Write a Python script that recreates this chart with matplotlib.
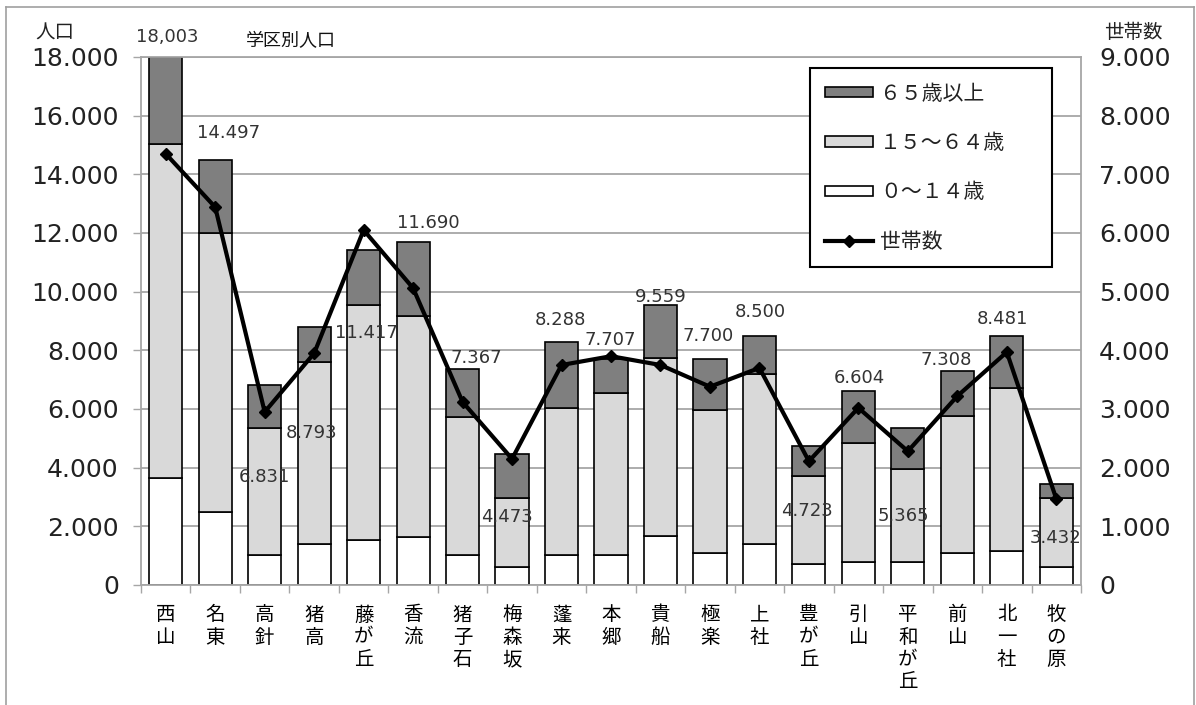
import matplotlib
matplotlib.use("Agg")
import matplotlib.pyplot as plt
import matplotlib.patches as mpatches
from matplotlib.lines import Line2D
from matplotlib.ticker import FuncFormatter, FixedLocator

plt.rcParams["font.family"] = ["Noto Sans CJK JP", "DejaVu Sans"]

# --- Data ---
districts = ["西山", "名東", "高針", "猪高", "藤が丘", "香流", "猪子石", "梅森坂", "蓬来", "本郷",
             "貴船", "極楽", "上社", "豊が丘", "引山", "平和が丘", "前山", "北一社", "牧の原"]
total = [18003, 14497, 6831, 8793, 11417, 11690, 7367, 4473, 8288, 7707,
         9559, 7700, 8500, 4723, 6604, 5365, 7308, 8481, 3432]
age_0_14 = [3650, 2480, 1020, 1400, 1530, 1640, 1020, 610, 1020, 1020,
            1670, 1090, 1400, 720, 780, 780, 1090, 1160, 610]
age_15_64 = [11390, 9520, 4330, 6200, 8020, 7530, 4710, 2360, 5020, 5530,
             6070, 4880, 5790, 3000, 4060, 3180, 4670, 5560, 2360]
age_65 = [2963, 2497, 1481, 1193, 1867, 2520, 1637, 1503, 2248, 1157,
          1819, 1730, 1310, 1003, 1764, 1405, 1548, 1761, 462]
households = [7350, 6440, 2950, 3950, 6050, 5060, 3120, 2150, 3750, 3900,
              3750, 3380, 3700, 2110, 3020, 2280, 3220, 3970, 1470]

# total labels: text and where Excel dropped them (offset from bar top)
total_text = ["18,003", "14.497", "6.831", "8.793", "11.417", "11.690", "7.367", "4.473", "8.288", "7.707",
              "9.559", "7.700", "8.500", "4.723", "6.604", "5.365", "7.308", "8.481", "3.432"]
lab_dx = [0.03, 0.26, -0.01, -0.06, 0.05, 0.31, 0.28, -0.10, -0.03, -0.02,
          0.0, -0.03, 0.02, -0.03, 0.02, -0.09, -0.22, -0.09, -0.02]
lab_dy = [681, 914, -3149, -3611, -2825, 652, 373, -2155, 747, 646,
          260, 790, 808, -2200, 454, -3012, 363, 588, -1830]

C65 = "#7f7f7f"
C15 = "#d9d9d9"
C0 = "#ffffff"
GRID = "#a6a6a6"
NUMFONT = ["DejaVu Sans"]

W, H = 1196, 705
fig = plt.figure(figsize=(W / 100, H / 100), dpi=100)
ax = fig.add_axes([141 / W, 1 - 585 / H, 940 / W, 528 / H])

x = list(range(len(districts)))
bw = 0.67
ax.bar(x, age_0_14, bw, color=C0, edgecolor="black", linewidth=1.2, zorder=2)
ax.bar(x, age_15_64, bw, bottom=age_0_14, color=C15, edgecolor="black", linewidth=1.2, zorder=2)
bottom2 = [a + b for a, b in zip(age_0_14, age_15_64)]
ax.bar(x, age_65, bw, bottom=bottom2, color=C65, edgecolor="black", linewidth=1.2, zorder=2)

for i, t in enumerate(total_text):
    ax.text(i + lab_dx[i], total[i] + lab_dy[i], t, ha="center", va="center",
            fontsize=13, color="#333333", family=NUMFONT, zorder=5)

ax.set_xlim(-0.5, len(districts) - 0.5)
ax.set_ylim(0, 18000)
ax.set_yticks(range(0, 18001, 2000))
fmt = FuncFormatter(lambda v, p: f"{v:,.0f}".replace(",", "."))
ax.yaxis.set_major_formatter(fmt)
ax.tick_params(axis="y", direction="out", length=6, width=1, color=GRID, pad=10,
               labelsize=18, labelcolor="#222222")
for lab in ax.get_yticklabels():
    lab.set_family(NUMFONT)
ax.set_xticks(x)
ax.set_xticklabels(["\n".join(n) for n in districts], fontsize=14, linespacing=1.08, va="top")
ax.tick_params(axis="x", which="major", length=0, pad=14)
ax.xaxis.set_minor_locator(FixedLocator([i - 0.5 for i in range(len(districts) + 1)]))
ax.tick_params(axis="x", which="minor", direction="out", length=6, width=1, color=GRID)
ax.grid(axis="y", color=GRID, linewidth=1.3)
ax.set_axisbelow(True)
for s in ax.spines.values():
    s.set_color(GRID)
    s.set_linewidth(1.3)

ax2 = ax.twinx()
ax2.plot(x, households, color="black", linewidth=3, marker="D", markersize=6.5, zorder=4)
ax2.set_ylim(0, 9000)
ax2.set_yticks(range(0, 9001, 1000))
ax2.yaxis.set_major_formatter(fmt)
ax2.tick_params(axis="y", length=0, pad=13, labelsize=18, labelcolor="#222222")
for lab in ax2.get_yticklabels():
    lab.set_family(NUMFONT)
for s in ax2.spines.values():
    s.set_visible(False)

handles = [
    mpatches.Patch(facecolor=C65, edgecolor="black", linewidth=1.2, label="６５歳以上"),
    mpatches.Patch(facecolor=C15, edgecolor="black", linewidth=1.2, label="１５～６４歳"),
    mpatches.Patch(facecolor=C0, edgecolor="black", linewidth=1.2, label="０～１４歳"),
    Line2D([], [], color="black", linewidth=3, marker="D", markersize=6.5, label="世帯数"),
]
leg = ax2.legend(handles=handles, loc="upper left", bbox_to_anchor=(0.712, 0.612, 0.257, 0.367),
                 mode="expand", fontsize=15, frameon=True, fancybox=False, edgecolor="black",
                 framealpha=1, handlelength=2.3, handleheight=0.4, handletextpad=0.35,
                 labelspacing=1.31, borderpad=0.7, borderaxespad=0)
leg.get_frame().set_linewidth(1.5)
leg.set_zorder(10)
for ti in leg.get_texts():
    ti.set_color("#222222")

fig.text(55 / W, 1 - 33 / H, "人口", ha="center", va="center", fontsize=14, color="#222222")
fig.text(1133 / W, 1 - 32 / H, "世帯数", ha="center", va="center", fontsize=14, color="#222222")
fig.text(291 / W, 1 - 41 / H, "学区別人口", ha="center", va="center", fontsize=13, color="#111111")

# outer frame of the pasted chart
for xs, ys in [((6, 6), (7, 710)), ((6, 1194), (7, 7)), ((1194, 1194), (7, 710))]:
    fig.add_artist(Line2D([v / W for v in xs], [1 - v / H for v in ys],
                          transform=fig.transFigure, color="#a0a0a0", linewidth=1.2))

fig.savefig("out.png", dpi=100)
